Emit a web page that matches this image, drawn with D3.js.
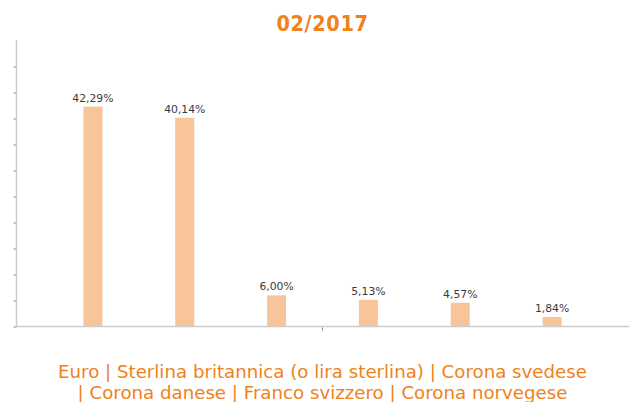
<!DOCTYPE html>
<html>
<head>
<meta charset="utf-8">
<script src="https://cdn.jsdelivr.net/npm/d3@7"></script>
<style>
  html, body { margin: 0; padding: 0; background: #fff; }
  svg { display: block; }
</style>
</head>
<body>
<svg id="chart" width="630" height="402"></svg>
<script>
const title = "02/2017";
const categories = ["Euro", "Sterlina britannica (o lira sterlina)", "Corona svedese", "Corona danese", "Franco svizzero", "Corona norvegese"];
const values = [42.29, 40.14, 6.00, 5.13, 4.57, 1.84];
const valueLabels = ["42,29%", "40,14%", "6,00%", "5,13%", "4,57%", "1,84%"];
const yTicks = [0, 5, 10, 15, 20, 25, 30, 35, 40, 45, 50];
const legendLines = [
  "Euro | Sterlina britannica (o lira sterlina) | Corona svedese",
  "| Corona danese | Franco svizzero | Corona norvegese"
];

const svg = d3.select("#chart");
const orange = "#F08219";
const barColor = "#F8C59B";
const axisColor = "#cccccc";

const x0 = 16, x1 = 629, yBase = 326.5;
const x = d3.scaleBand().domain(categories).range([47, 598]).paddingInner(0.79).paddingOuter(0.395);
const y = d3.scaleLinear().domain([0, 55]).range([yBase, 40.5]);

// Title
svg.append("text")
  .attr("x", 322.5).attr("y", 31)
  .attr("text-anchor", "middle")
  .attr("font-family", "DejaVu Sans Condensed, DejaVu Sans, sans-serif")
  .attr("font-stretch", "condensed")
  .attr("font-size", 21.5).attr("font-weight", "bold")
  .attr("letter-spacing", 0.6)
  .attr("fill", orange)
  .text(title);

// Bars
const bw = 19;
svg.append("g").selectAll("rect").data(values).join("rect")
  .attr("x", (d, i) => x(categories[i]) + x.bandwidth() / 2 - bw / 2)
  .attr("y", d => y(d))
  .attr("width", bw)
  .attr("height", d => yBase - y(d))
  .attr("fill", barColor);

// Value labels
svg.append("g").selectAll("text").data(values).join("text")
  .attr("x", (d, i) => x(categories[i]) + x.bandwidth() / 2)
  .attr("y", d => y(d) - 5)
  .attr("text-anchor", "middle")
  .attr("font-family", "DejaVu Sans, Verdana, sans-serif")
  .attr("font-size", 10.8)
  .attr("fill", "#3a3a3a")
  .text((d, i) => valueLabels[i]);

// Y axis
const yAxis = d3.axisLeft(y).tickValues(yTicks).tickSize(3).tickFormat("");
const gy = svg.append("g").attr("transform", `translate(${x0 + 0.5},0)`).call(yAxis);
gy.select(".domain").remove();
gy.selectAll(".tick line").attr("stroke", "#888");
gy.append("line").attr("x1", 0).attr("x2", 0).attr("y1", 40).attr("y2", yBase).attr("stroke", axisColor).attr("stroke-width", 1.5);

// X axis
const xMid = d3.scaleLinear().domain([0, 1]).range([47, 598]);
const gx = svg.append("g").attr("transform", `translate(0,${yBase})`);
gx.append("line").attr("x1", x0).attr("x2", x1).attr("y1", 0).attr("y2", 0).attr("stroke", axisColor).attr("stroke-width", 1.5);
gx.append("line").attr("x1", xMid(0.5)).attr("x2", xMid(0.5)).attr("y1", 1).attr("y2", 4).attr("stroke", "#888");

// Legend / category text
svg.append("g").selectAll("text").data(legendLines).join("text")
  .attr("x", 322.5)
  .attr("y", (d, i) => 377.5 + i * 21)
  .attr("text-anchor", "middle")
  .attr("font-family", "DejaVu Sans, Verdana, sans-serif")
  .attr("font-size", 18.2)
  .attr("fill", orange)
  .text(d => d);
</script>
</body>
</html>
